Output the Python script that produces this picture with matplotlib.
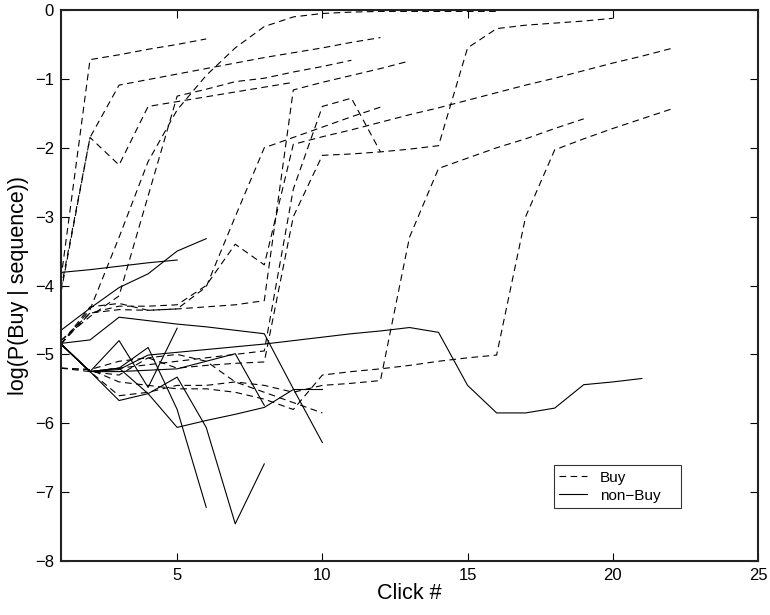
import matplotlib
matplotlib.use("Agg")
import matplotlib.pyplot as plt
from matplotlib.lines import Line2D

# log P(Buy | sequence) after each click, one list per session (click 1, 2, ...)
buy = [
    [-3.90, -0.72, -0.65, -0.57, -0.50, -0.42],
    [-4.05, -1.85, -1.09, -1.01, -0.93, -0.85, -0.77, -0.69, -0.62, -0.55, -0.47, -0.40],
    [-4.10, -1.85, -2.25, -1.40, -1.33, -1.26, -1.19, -1.12, -1.05],
    [-4.85, -4.35, -3.30, -2.20, -1.45, -0.95, -0.55, -0.24, -0.10, -0.05, -0.03, -0.02, -0.02, -0.02, -0.02, -0.02],
    [-4.80, -4.45, -4.15, -2.70, -1.25, -1.15, -1.04, -0.99, -0.90, -0.82, -0.73],
    [-4.85, -4.31, -4.26, -4.36, -4.34, -4.31, -4.28, -4.22, -1.16, -1.05, -0.95, -0.85, -0.74],
    [-5.20, -5.22, -5.10, -5.05, -5.20, -5.16, -5.13, -5.11, -3.00, -2.11, -2.09, -2.06, -2.02, -1.97, -0.55, -0.27, -0.22, -0.19, -0.16, -0.12],
    [-4.85, -4.40, -4.35, -4.36, -4.34, -4.02, -3.00, -2.00, -1.85, -1.70, -1.55, -1.41],
    [-4.80, -4.40, -4.30, -4.30, -4.28, -4.00, -3.40, -3.70, -1.95, -1.84, -1.74, -1.63, -1.52, -1.42, -1.31, -1.20, -1.09, -0.99, -0.88, -0.77, -0.67, -0.56],
    [-4.85, -5.25, -5.20, -5.15, -5.10, -5.05, -5.00, -4.95, -2.60, -1.40, -1.28, -2.06],
    [-5.20, -5.22, -5.40, -5.45, -5.50, -5.50, -5.55, -5.65, -5.80, -5.30, -5.25, -5.21, -5.16, -5.10, -5.05, -5.01, -3.00, -2.03, -1.87, -1.72, -1.58, -1.44],
    [-5.20, -5.25, -5.60, -5.55, -5.45, -5.45, -5.40, -5.45, -5.55, -5.45, -5.42, -5.38, -3.30, -2.30, -2.15, -2.00, -1.87, -1.72, -1.58],
    [-4.85, -5.25, -5.30, -5.05, -5.00, -5.10, -5.40, -5.55, -5.70, -5.85],
]

non_buy = [
    [-3.81, -3.77, -3.72, -3.67, -3.63],
    [-4.65, -4.33, -4.03, -3.83, -3.50, -3.32],
    [-4.84, -4.79, -4.46, -4.51, -4.56, -4.60, -4.65, -4.70, -5.50, -6.28],
    [-4.85, -5.25, -5.67, -5.57, -5.33, -6.06, -7.46, -6.59],
    [-4.85, -5.25, -4.80, -5.48, -4.62],
    [-4.85, -5.25, -5.22, -5.01, -4.97, -4.93, -4.89, -4.85, -4.80, -4.75, -4.70, -4.66, -4.61, -4.68, -5.45, -5.85, -5.85, -5.78, -5.44, -5.40, -5.35],
    [-4.85, -5.25, -5.20, -5.57, -6.06, -5.96, -5.87, -5.77, -5.51, -5.51],
    [-4.85, -5.25, -5.25, -5.23, -5.21, -5.10, -4.99, -5.74],
    [-4.85, -5.25, -5.20, -4.90, -5.80, -7.22],
]

plt.rcParams["font.family"] = ["Liberation Sans", "DejaVu Sans"]
fig = plt.figure(figsize=(7.7, 6.15), dpi=100)
ax = fig.add_axes([0.0792, 0.0878, 0.9052, 0.8959])

for ys in buy:
    ax.plot(range(1, len(ys) + 1), ys, color="black", lw=0.8, linestyle=(0, (6, 4)))
for ys in non_buy:
    ax.plot(range(1, len(ys) + 1), ys, color="black", lw=0.8, linestyle="-")

ax.set_xlim(1, 25)
ax.set_ylim(-8, 0)
ax.set_xticks([5, 10, 15, 20, 25])
ax.set_yticks(range(-8, 1))
ax.set_yticklabels([str(v).replace("-", "\u2212") for v in range(-8, 1)])
ax.tick_params(direction="in", length=6, width=0.8, labelsize=12, top=True, right=True, pad=5)
for sp in ax.spines.values():
    sp.set_linewidth(1.5)
    sp.set_color("#222222")
ax.set_xlabel("Click #", fontsize=15.5, labelpad=0)
ax.set_ylabel("log(P(Buy | sequence))", fontsize=15.5, labelpad=4)

handles = [Line2D([], [], color="black", lw=0.8, linestyle=(0, (6, 4))),
           Line2D([], [], color="black", lw=0.8)]
leg = ax.legend(handles, ["Buy", "non\u2212Buy"], loc="lower left", mode="expand",
                bbox_to_anchor=(0.7195, 0.174, 0.165, 0.0715), bbox_transform=fig.transFigure,
                fontsize=11, frameon=True, fancybox=False, borderaxespad=0,
                handlelength=1.8, handletextpad=0.85, borderpad=0.35, labelspacing=0.25)
leg.get_frame().set_edgecolor("black")
leg.get_frame().set_linewidth(0.8)

fig.savefig("out.png", dpi=100)
